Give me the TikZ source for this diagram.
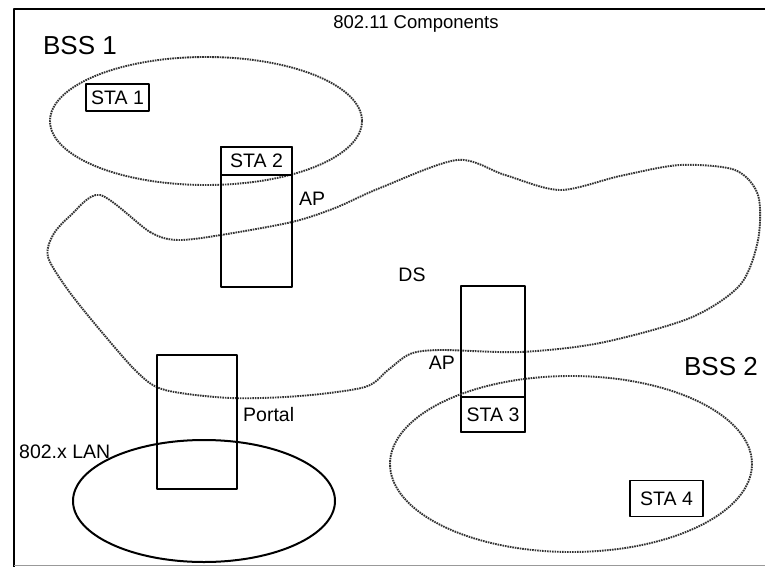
\documentclass[tikz,border=0pt]{standalone}
\usepackage{fontspec}
\setmainfont{Liberation Sans}
\usetikzlibrary{positioning}

\begin{document}
\begin{tikzpicture}[x=1pt, y=-1pt, line join=round]
    \tikzstyle{station}=[rectangle, draw, line width=1.5pt, inner sep=0pt, font=\fontsize{19.5}{19.5}\selectfont]
    \tikzstyle{apbox}=[rectangle, draw, line width=1.5pt, inner sep=0pt]
    \tikzstyle{area}=[draw=black!80, line width=1.9pt, dash pattern=on 1.6pt off 0.9pt]
    \tikzstyle{label}=[inner sep=0pt, font=\fontsize{19.5}{19.5}\selectfont]
    \tikzstyle{bigl}=[inner sep=0pt, font=\fontsize{26}{26}\selectfont]

    \useasboundingbox (0,0) rectangle (765,567);

    % frame
    \draw[line width=2.6pt] (765,9) -- (14,9) -- (14,567);
    \draw[black!40, line width=0.8pt] (14,565) -- (765,565);

    \node[label, font=\fontsize{18.5}{18.5}\selectfont] (title) at (416,24) {802.11 Components};

    % BSS 1
    \node[bigl] (bss1) at (80,46) {BSS 1};
    \draw[area] (206,121) ellipse [x radius=156, y radius=64];
    \node[station, minimum width=63pt, minimum height=27pt] (sta1) at (117.5,97.5) {STA 1};

    % distribution system
    \draw[area] plot[smooth cycle, tension=0.5] coordinates {
        (100,195) (150,232) (178,240) (221,235) (292,222) (335,208)
        (380,188) (457,160) (505,175) (560,190) (620,176) (680,165)
        (735,170) (758,195) (758,240) (740,285) (690,318) (600,343)
        (520,352) (440,350) (410,354) (388,370) (365,387) (300,396)
        (230,398) (165,390) (138,373) (100,330) (68,290) (48,257)
        (53,235) (70,216)};
    \node[label] (ds) at (412,275) {DS};

    % access point 1
    \node[apbox, minimum width=71pt, minimum height=140pt] (ap1) at (256.5,217) {};
    \node[station, minimum width=71pt, minimum height=28pt] (sta2) at (256.5,161) {STA 2};
    \node[label, anchor=west] (ap1l) at (299,199) {AP};

    % access point 2
    \node[apbox, minimum width=64pt, minimum height=146pt] (ap2) at (493,359) {};
    \node[station, minimum width=64pt, minimum height=35pt] (sta3) at (493,414.5) {STA 3};
    \node[label, anchor=east] (ap2l) at (455,363) {AP};

    % BSS 2
    \node[bigl] (bss2) at (721,367) {BSS 2};
    \draw[area] (571,464) ellipse [x radius=181, y radius=88];
    \node[station, minimum width=73pt, minimum height=36pt] (sta4) at (666.5,498.5) {STA 4};

    % portal and LAN
    \draw[line width=2pt] (204,501) ellipse [x radius=131, y radius=61];
    \node[apbox, minimum width=80pt, minimum height=134pt] (portal) at (197,422) {};
    \node[label, anchor=west] (portall) at (243,415) {Portal};
    \node[label, anchor=west] (lan) at (19,452) {802.x LAN};
\end{tikzpicture}
\end{document}
